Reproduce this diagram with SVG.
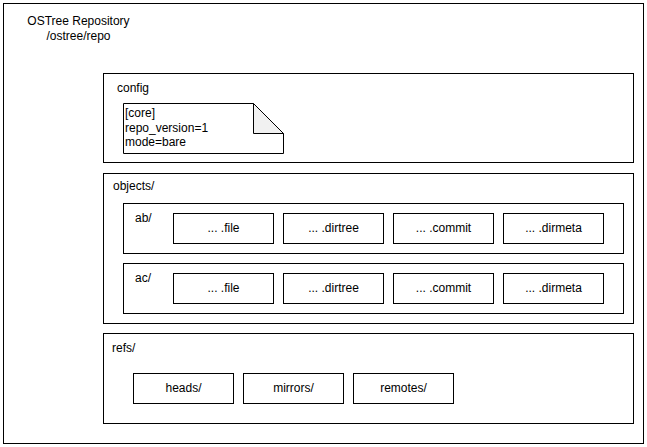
<svg xmlns="http://www.w3.org/2000/svg" width="647" height="447" viewBox="0 0 647 447">
<style>
rect, path { fill: #ffffff; stroke: #000000; stroke-width: 1; }
text { font-family: "Liberation Sans", Arial, Helvetica, sans-serif; font-size: 12px; fill: #000000; }
.c { text-anchor: middle; }
.fold { fill: #f1f1f1; }
</style>
<rect width="647" height="447" style="fill:#ffffff;stroke:none"/>
<g id="repo">
<rect x="3.5" y="3.5" width="640" height="440"/>
<text class="c" x="78.5" y="25">OSTree Repository</text>
<text class="c" x="78.5" y="40">/ostree/repo</text>
</g>
<g id="config">
<rect x="103.5" y="73.5" width="530" height="89"/>
<text x="117" y="92">config</text>
</g>
<g id="config-note">
<path d="M123.5 103.5 H253.5 L283.5 133.5 V153.5 H123.5 Z"/>
<path class="fold" d="M253.5 103.5 V133.5 H283.5 Z"/>
<text x="125" y="117">[core]</text>
<text x="125" y="131.5">repo_version=1</text>
<text x="125" y="146">mode=bare</text>
</g>
<g id="objects">
<rect x="103.5" y="173.5" width="530" height="150"/>
<text x="113" y="190">objects/</text>
</g>
<g id="ab">
<rect x="123.5" y="203.5" width="500" height="50"/>
<text x="135" y="222">ab/</text>
</g>
<g id="ab-file"><rect x="173.5" y="213.5" width="100" height="30"/><text class="c" x="223.5" y="232">... .file</text></g>
<g id="ab-dirtree"><rect x="283.5" y="213.5" width="100" height="30"/><text class="c" x="333.5" y="232">... .dirtree</text></g>
<g id="ab-commit"><rect x="393.5" y="213.5" width="100" height="30"/><text class="c" x="443.5" y="232">... .commit</text></g>
<g id="ab-dirmeta"><rect x="503.5" y="213.5" width="100" height="30"/><text class="c" x="553.5" y="232">... .dirmeta</text></g>
<g id="ac">
<rect x="123.5" y="263.5" width="500" height="50"/>
<text x="135" y="282">ac/</text>
</g>
<g id="ac-file"><rect x="173.5" y="273.5" width="100" height="30"/><text class="c" x="223.5" y="292">... .file</text></g>
<g id="ac-dirtree"><rect x="283.5" y="273.5" width="100" height="30"/><text class="c" x="333.5" y="292">... .dirtree</text></g>
<g id="ac-commit"><rect x="393.5" y="273.5" width="100" height="30"/><text class="c" x="443.5" y="292">... .commit</text></g>
<g id="ac-dirmeta"><rect x="503.5" y="273.5" width="100" height="30"/><text class="c" x="553.5" y="292">... .dirmeta</text></g>
<g id="refs">
<rect x="103.5" y="333.5" width="530" height="90"/>
<text x="112" y="352">refs/</text>
</g>
<g id="heads"><rect x="133.5" y="373.5" width="100" height="30"/><text class="c" x="183.5" y="392">heads/</text></g>
<g id="mirrors"><rect x="243.5" y="373.5" width="100" height="30"/><text class="c" x="293.5" y="392">mirrors/</text></g>
<g id="remotes"><rect x="353.5" y="373.5" width="100" height="30"/><text class="c" x="403.5" y="392">remotes/</text></g>
<g id="connectors"></g>
</svg>
